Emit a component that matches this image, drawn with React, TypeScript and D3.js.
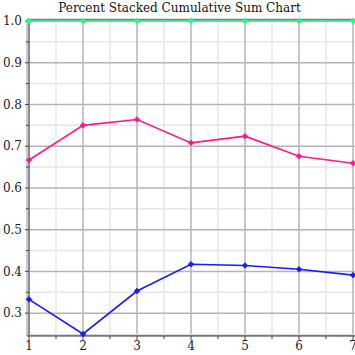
import React from "react";
import * as d3 from "d3";

const xValues = [1, 2, 3, 4, 5, 6, 7];
const seriesTop = [1, 1, 1, 1, 1, 1, 1];
const seriesMid = [0.667, 0.75, 0.764, 0.708, 0.724, 0.676, 0.659];
const seriesLow = [0.333, 0.25, 0.353, 0.417, 0.414, 0.405, 0.391];
const yTicks = [0.3, 0.4, 0.5, 0.6, 0.7, 0.8, 0.9, 1.0];
const title = "Percent Stacked Cumulative Sum Chart";

const W = 355;
const H = 355;

export default function App() {
  const x = d3.scaleLinear().domain([1, 7]).range([29, 353]);
  const y = d3.scaleLinear().domain([0.25, 1.0]).range([334, 21]);

  const majorX = d3.range(1, 8, 1);
  const minorX = d3.range(1.5, 7.6, 1);
  const minorY = d3.range(0.25, 1.0, 0.1).map((v) => Math.round(v * 100) / 100).filter((v) => v > 0.25);
  const line = d3
    .line<number>()
    .x((_, i) => x(xValues[i]))
    .y((d) => y(d));

  const series = [
    { data: seriesLow, color: "#1a1aff" },
    { data: seriesMid, color: "#ff1a8c" },
    { data: seriesTop, color: "#1aff80" },
  ];

  const diamond = (cx: number, cy: number) =>
    `M${cx},${cy - 2.8}L${cx + 2.8},${cy}L${cx},${cy + 2.8}L${cx - 2.8},${cy}Z`;

  const fontFamily = "'DejaVu Serif', serif";
  const xMax = 355;

  return (
    <svg
      width={W}
      height={H}
      style={{ position: "fixed", left: 0, top: 0, background: "#fff" }}
    >
      <rect x={0} y={0} width={W} height={H} fill="#fff" />
      {/* minor grid */}
      {minorX.map((v) => (
        <line key={"mx" + v} x1={x(v)} x2={x(v)} y1={y(1)} y2={y(0.25)} stroke="#e6e6e6" strokeWidth={1.5} />
      ))}
      {minorY.map((v) => (
        <line key={"my" + v} x1={x(1)} x2={xMax} y1={y(v)} y2={y(v)} stroke="#e6e6e6" strokeWidth={1.5} />
      ))}
      {/* major grid */}
      {majorX.map((v) => (
        <line key={"gx" + v} x1={x(v)} x2={x(v)} y1={y(1)} y2={y(0.25)} stroke="#b4b4b4" strokeWidth={1.5} />
      ))}
      {yTicks.map((v) => (
        <line key={"gy" + v} x1={x(1)} x2={xMax} y1={y(v)} y2={y(v)} stroke="#b4b4b4" strokeWidth={1.5} />
      ))}
      {/* axes */}
      <line x1={27.5} x2={27.5} y1={y(1) - 2} y2={y(0.25) + 2} stroke="#cccccc" strokeWidth={3} />
      <line x1={29} x2={29} y1={y(1) - 2} y2={y(0.25) + 2} stroke="#666" strokeWidth={1.2} />
      <line x1={27} x2={xMax} y1={19.8} y2={19.8} stroke="#808080" strokeWidth={2} />
      <line x1={27} x2={xMax} y1={335.8} y2={335.8} stroke="#777" strokeWidth={2} />
      {/* y ticks */}
      {yTicks.map((v) => (
        <g key={"ty" + v}>
          <line x1={25} x2={29} y1={y(v)} y2={y(v)} stroke="#444" strokeWidth={1} />
          <text
            x={22}
            y={y(v)}
            dy="0.35em"
            textAnchor="end"
            fontFamily={fontFamily}
            fontSize={12}
            fill="#222"
          >
            {d3.format(".1f")(v)}
          </text>
        </g>
      ))}
      {minorY.map((v) => (
        <line key={"tmy" + v} x1={26} x2={29} y1={y(v)} y2={y(v)} stroke="#444" strokeWidth={1} />
      ))}
      {/* x ticks */}
      {majorX.map((v) => (
        <g key={"tx" + v}>
          <line x1={x(v)} x2={x(v)} y1={336} y2={340} stroke="#444" strokeWidth={1} />
          <text
            x={x(v)}
            y={350}
            textAnchor="middle"
            fontFamily={fontFamily}
            fontSize={12}
            fill="#222"
          >
            {v}
          </text>
        </g>
      ))}
      {minorX.map((v) => (
        <line key={"tmx" + v} x1={x(v)} x2={x(v)} y1={336} y2={339} stroke="#444" strokeWidth={1} />
      ))}
      {/* series */}
      {series.map((s, si) => (
        <g key={"s" + si}>
          <path d={line(s.data) || ""} fill="none" stroke={s.color} strokeWidth={1.6} />
          {s.data.map((d, i) => (
            <path key={i} d={diamond(x(xValues[i]), y(d))} fill={s.color} stroke={s.color} strokeWidth={0.8} />
          ))}
        </g>
      ))}
      <text
        x={179.5}
        y={11.5}
        textAnchor="middle"
        fontFamily={fontFamily}
        fontSize={12}
        fill="#111"
      >
        {title}
      </text>
    </svg>
  );
}
